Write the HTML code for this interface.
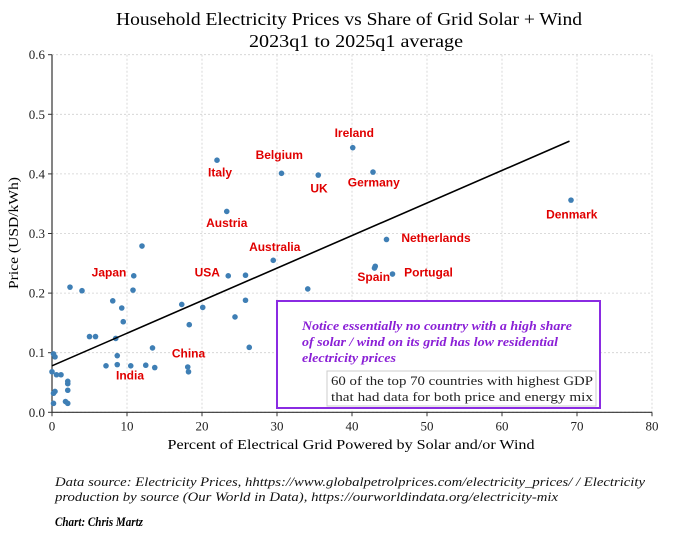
<!DOCTYPE html>
<html><head><meta charset="utf-8"><style>
html,body{margin:0;padding:0;background:#fff;}
svg{display:block;font-family:"Liberation Serif",serif;}
</style></head><body>
<svg id="chart" width="680" height="535" viewBox="0 0 680 535">
<text x="349" y="25" text-anchor="middle" font-size="18" textLength="466" lengthAdjust="spacingAndGlyphs">Household Electricity Prices vs Share of Grid Solar + Wind</text>
<text x="356" y="47" text-anchor="middle" font-size="18" textLength="214" lengthAdjust="spacingAndGlyphs">2023q1 to 2025q1 average</text>
<g id="grid"></g>
<g id="axes"></g>
<g id="marks"></g>
<g id="labels" font-family="Liberation Sans, sans-serif" font-weight="bold" font-size="12" fill="#e00000"></g>
<text transform="translate(18,233) rotate(-90)" text-anchor="middle" font-size="14" textLength="112" lengthAdjust="spacingAndGlyphs">Price (USD/kWh)</text>
<text x="351" y="449" text-anchor="middle" font-size="14" textLength="367" lengthAdjust="spacingAndGlyphs">Percent of Electrical Grid Powered by Solar and/or Wind</text>
<rect x="277" y="301" width="323" height="107" fill="#fff" stroke="#8a2be2" stroke-width="2"/>
<g font-style="italic" font-weight="bold" font-size="13" fill="#8a1fd6">
<text x="302" y="330" textLength="270" lengthAdjust="spacingAndGlyphs">Notice essentially no country with a high share</text>
<text x="302" y="346" textLength="256" lengthAdjust="spacingAndGlyphs">of solar / wind on its grid has low residential</text>
<text x="302" y="362" textLength="94" lengthAdjust="spacingAndGlyphs">electricity prices</text>
</g>
<rect x="327" y="371" width="269" height="35" fill="#fff" stroke="#ccc" stroke-width="1"/>
<g font-size="13" fill="#222">
<text x="331" y="385" textLength="262" lengthAdjust="spacingAndGlyphs">60 of the top 70 countries with highest GDP</text>
<text x="331" y="401" textLength="262" lengthAdjust="spacingAndGlyphs">that had data for both price and energy mix</text>
</g>
<g font-style="italic" font-size="13" fill="#111">
<text x="55" y="486" textLength="590" lengthAdjust="spacingAndGlyphs">Data source: Electricity Prices, hhttps://www.globalpetrolprices.com/electricity_prices/ / Electricity</text>
<text x="55" y="501" textLength="503" lengthAdjust="spacingAndGlyphs">production by source (Our World in Data), https://ourworldindata.org/electricity-mix</text>
</g>
<text x="55" y="526" font-style="italic" font-weight="bold" font-size="13" textLength="88" lengthAdjust="spacingAndGlyphs">Chart: Chris Martz</text>
</svg>
<script>
const xTicks=[0,10,20,30,40,50,60,70,80];
const yTicks=[0.0,0.1,0.2,0.3,0.4,0.5,0.6];
const shareX=[0.2,0.4,0,0.6,1.2,0.4,0.2,0.2,1.8,2.1,2.1,2.1,2.1,2.4,4.0,5.0,5.8,8.1,9.3,9.5,8.5,8.7,8.7,7.2,10.5,12.5,13.7,13.4,10.9,10.8,12.0,17.3,18.3,20.1,18.1,18.2,23.3,23.5,25.8,25.8,24.4,26.3,29.5,22.0,30.6,35.5,40.1,42.8,44.6,43.1,43.0,45.4,34.1,69.2];
const priceY=[0.098,0.093,0.068,0.063,0.063,0.035,0.032,0.015,0.018,0.015,0.037,0.048,0.052,0.21,0.204,0.127,0.127,0.187,0.175,0.152,0.124,0.095,0.080,0.078,0.078,0.079,0.075,0.108,0.229,0.205,0.279,0.181,0.147,0.176,0.076,0.068,0.337,0.229,0.230,0.188,0.160,0.109,0.255,0.423,0.401,0.398,0.444,0.403,0.290,0.245,0.242,0.232,0.207,0.356];
const trendX=[0,69];
const trendY=[0.078,0.455];
const countryNames=["Ireland","Belgium","Italy","UK","Germany","Austria","Australia","Denmark","Netherlands","Japan","USA","Spain","Portugal","China","India"];
const labelX=[40.3,30.3,22.4,35.6,42.9,23.3,29.7,69.3,51.2,7.6,20.7,42.9,50.2,18.2,10.4];
const labelY=[0.462,0.425,0.396,0.369,0.379,0.311,0.271,0.325,0.286,0.228,0.228,0.220,0.228,0.092,0.055];
const X0=52,X1=652,Y0=412.3,Y1=54.7;
const sx=v=>X0+(v-0)/80*(X1-X0);
const sy=v=>Y0-(v/0.6)*(Y0-Y1);
const NS="http://www.w3.org/2000/svg";
function mk(tag,parent,attrs){const e=document.createElementNS(NS,tag);for(const k in attrs)e.setAttribute(k,attrs[k]);parent.appendChild(e);return e;}
const grid=document.getElementById('grid'),axes=document.getElementById('axes'),marks=document.getElementById('marks'),labels=document.getElementById('labels');
xTicks.forEach(t=>{
 const g=mk('line',grid,{x1:sx(t),x2:sx(t),y1:Y1,y2:Y0,stroke:'#d0d0d0','stroke-dasharray':'2,2','stroke-width':0.8});
 
 
 mk('line',axes,{x1:sx(t),x2:sx(t),y1:Y0,y2:Y0+4,stroke:'#333'});
 const tx=mk('text',axes,{x:sx(t),y:Y0+18,'text-anchor':'middle','font-size':13,fill:'#222'});
 tx.textContent=t;
 
 
});
yTicks.forEach(t=>{
 const g=mk('line',grid,{x1:X0,x2:X1,y1:sy(t),y2:sy(t),stroke:'#d0d0d0','stroke-dasharray':'2,2','stroke-width':0.8});
 
 
 mk('line',axes,{x1:X0-4,x2:X0,y1:sy(t),y2:sy(t),stroke:'#333'});
 const tx=mk('text',axes,{x:X0-7,y:sy(t)+4.5,'text-anchor':'end','font-size':13,fill:'#222'});
 tx.textContent=t.toFixed(1);
 
 
});
const ax=mk('path',axes,{d:`M${X0},${Y1}V${Y0}H${X1}`,fill:'none',stroke:'#333','stroke-width':1.2});


shareX.forEach((v,i)=>{
 const c=mk('circle',marks,{cx:sx(v),cy:sy(priceY[i]),r:2.8,fill:'#3f7fb5'});
 
 
});
const tl=mk('line',marks,{x1:sx(trendX[0]),y1:sy(trendY[0]),x2:sx(trendX[1]),y2:sy(trendY[1]),stroke:'#000','stroke-width':1.6});


countryNames.forEach((n,i)=>{
 const t=mk('text',labels,{x:sx(labelX[i]),y:sy(labelY[i]),'text-anchor':'middle'});
 t.textContent=n;
 
 
});
</script>
</body></html>
